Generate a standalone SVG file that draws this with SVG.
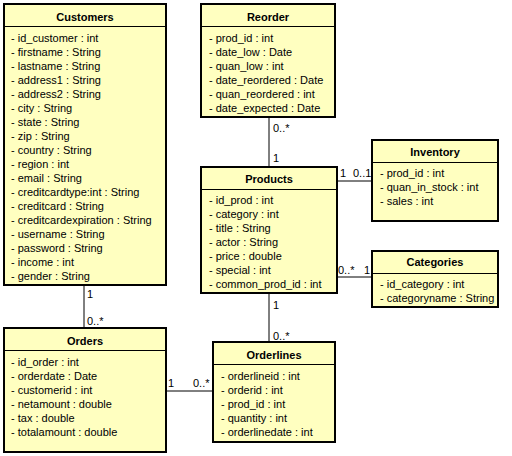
<svg xmlns="http://www.w3.org/2000/svg" width="512" height="456" viewBox="0 0 512 456">
<style>
.box{fill:#FFFFC0;stroke:#000;stroke-width:2}
.sep{stroke:#000;stroke-width:1}
.t{font-family:"Liberation Sans",Arial,sans-serif;font-size:11px;fill:#000}
.h{font-family:"Liberation Sans",Arial,sans-serif;font-size:11px;font-weight:bold;fill:#000;text-anchor:middle}
.c{stroke:#000;stroke-width:1;fill:none}
</style>
<rect width="512" height="456" fill="#fff"/>
<g id="connectors">
<line class="c" x1="84" y1="285" x2="84" y2="328"/>
<text class="t" x="87" y="298">1</text>
<text class="t" x="87" y="325">0..*</text>
<line class="c" x1="166" y1="391" x2="213" y2="391"/>
<text class="t" x="168" y="387">1</text>
<text class="t" x="193" y="387">0..*</text>
<line class="c" x1="269" y1="117" x2="269" y2="167"/>
<text class="t" x="273" y="132">0..*</text>
<text class="t" x="273" y="162">1</text>
<line class="c" x1="269" y1="293" x2="269" y2="342"/>
<text class="t" x="273" y="309">1</text>
<text class="t" x="273" y="340">0..*</text>
<line class="c" x1="337" y1="181" x2="372" y2="181"/>
<text class="t" x="340" y="177">1</text>
<text class="t" x="353" y="177">0..1</text>
<line class="c" x1="337" y1="277" x2="372" y2="277"/>
<text class="t" x="338" y="274">0..*</text>
<text class="t" x="364" y="274">1</text>
</g>
<g id="Customers">
<rect class="box" x="4" y="4" width="162" height="281"/>
<line class="sep" x1="4" y1="26.5" x2="166" y2="26.5"/>
<text class="h" x="85" y="21">Customers</text>
<text class="t" x="11"><tspan x="11" y="42">- id_customer : int</tspan><tspan x="11" y="56">- firstname : String</tspan><tspan x="11" y="70">- lastname : String</tspan><tspan x="11" y="84">- address1 : String</tspan><tspan x="11" y="98">- address2 : String</tspan><tspan x="11" y="112">- city : String</tspan><tspan x="11" y="126">- state : String</tspan><tspan x="11" y="140">- zip : String</tspan><tspan x="11" y="154">- country : String</tspan><tspan x="11" y="168">- region : int</tspan><tspan x="11" y="182">- email : String</tspan><tspan x="11" y="196">- creditcardtype:int : String</tspan><tspan x="11" y="210">- creditcard : String</tspan><tspan x="11" y="224">- creditcardexpiration : String</tspan><tspan x="11" y="238">- username : String</tspan><tspan x="11" y="252">- password : String</tspan><tspan x="11" y="266">- income : int</tspan><tspan x="11" y="280">- gender : String</tspan></text>
</g>
<g id="Reorder">
<rect class="box" x="201" y="4" width="134" height="113"/>
<line class="sep" x1="201" y1="26.5" x2="335" y2="26.5"/>
<text class="h" x="268" y="21">Reorder</text>
<text class="t"><tspan x="209" y="42">- prod_id : int</tspan><tspan x="209" y="56">- date_low : Date</tspan><tspan x="209" y="70">- quan_low : int</tspan><tspan x="209" y="84">- date_reordered : Date</tspan><tspan x="209" y="98">- quan_reordered : int</tspan><tspan x="209" y="112">- date_expected : Date</tspan></text>
</g>
<g id="Products">
<rect class="box" x="201" y="167" width="136" height="126"/>
<line class="sep" x1="201" y1="189.5" x2="337" y2="189.5"/>
<text class="h" x="269" y="183">Products</text>
<text class="t"><tspan x="209" y="204">- id_prod : int</tspan><tspan x="209" y="218">- category : int</tspan><tspan x="209" y="232">- title : String</tspan><tspan x="209" y="246">- actor : String</tspan><tspan x="209" y="260">- price : double</tspan><tspan x="209" y="274">- special : int</tspan><tspan x="209" y="288">- common_prod_id : int</tspan></text>
</g>
<g id="Inventory">
<rect class="box" x="372" y="140" width="126" height="81"/>
<line class="sep" x1="372" y1="162.5" x2="498" y2="162.5"/>
<text class="h" x="435" y="156">Inventory</text>
<text class="t"><tspan x="380" y="177">- prod_id : int</tspan><tspan x="380" y="191">- quan_in_stock : int</tspan><tspan x="380" y="205">- sales : int</tspan></text>
</g>
<g id="Categories">
<rect class="box" x="372" y="251" width="126" height="56"/>
<line class="sep" x1="372" y1="273.5" x2="498" y2="273.5"/>
<text class="h" x="435" y="266">Categories</text>
<text class="t"><tspan x="380" y="288">- id_category : int</tspan><tspan x="380" y="302">- categoryname : String</tspan></text>
</g>
<g id="Orders">
<rect class="box" x="4" y="328" width="162" height="124"/>
<line class="sep" x1="4" y1="350.5" x2="166" y2="350.5"/>
<text class="h" x="85" y="345">Orders</text>
<text class="t"><tspan x="11" y="366">- id_order : int</tspan><tspan x="11" y="380">- orderdate : Date</tspan><tspan x="11" y="394">- customerid : int</tspan><tspan x="11" y="408">- netamount : double</tspan><tspan x="11" y="422">- tax : double</tspan><tspan x="11" y="436">- totalamount : double</tspan></text>
</g>
<g id="Orderlines">
<rect class="box" x="213" y="342" width="122" height="100"/>
<line class="sep" x1="213" y1="364.5" x2="335" y2="364.5"/>
<text class="h" x="274" y="359">Orderlines</text>
<text class="t"><tspan x="221" y="380">- orderlineid : int</tspan><tspan x="221" y="394">- orderid : int</tspan><tspan x="221" y="408">- prod_id : int</tspan><tspan x="221" y="422">- quantity : int</tspan><tspan x="221" y="436">- orderlinedate : int</tspan></text>
</g>
</svg>
